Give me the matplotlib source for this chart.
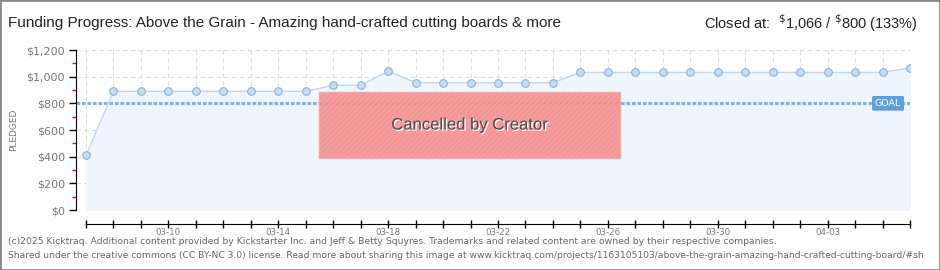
import matplotlib
matplotlib.use("Agg")
import matplotlib.pyplot as plt
import matplotlib.patheffects as pe
from matplotlib.patches import Rectangle
import numpy as np

# daily pledged totals, 03-07 .. 04-06
days = ["03-07", "03-08", "03-09", "03-10", "03-11", "03-12", "03-13", "03-14",
        "03-15", "03-16", "03-17", "03-18", "03-19", "03-20", "03-21", "03-22",
        "03-23", "03-24", "03-25", "03-26", "03-27", "03-28", "03-29", "03-30",
        "03-31", "04-01", "04-02", "04-03", "04-04", "04-05", "04-06"]
pledged = [410, 890, 890, 890, 890, 890, 890, 890,
           890, 935, 935, 1040, 955, 955, 955, 955,
           955, 955, 1032, 1032, 1032, 1032, 1032, 1032,
           1032, 1032, 1032, 1032, 1032, 1032, 1066]
goal = 800
yticks = [0, 200, 400, 600, 800, 1000, 1200]
ytick_labels = ["$0", "$200", "$400", "$600", "$800", "$1,000", "$1,200"]
cancel_span = (8.5, 19.45)   # days from start
cancel_range = (390, 885)

x = np.arange(len(days))

fig = plt.figure(figsize=(9.4, 2.7), dpi=100)
ax = fig.add_axes([76 / 940, 1 - 210 / 270, (910 - 76) / 940, 160 / 270])

ax.fill_between(x, pledged, 0, color="#eef5fd", zorder=1)
ax.plot(x, pledged, color="#bcd8f5", lw=1, zorder=3)
ax.plot(x, pledged, "o", ms=5.5, mfc="#c5dcf5", mec="#8fb2d8", mew=0.8, zorder=4)

ax.axhline(goal, color="#7fb2e8", lw=2.2, ls=(0, (1.2, 0.6)), zorder=2)
ax.text(29.2, goal, "GOAL", color="white", fontsize=6.8, ha="center", va="center",
        zorder=6,
        bbox=dict(boxstyle="round,pad=0.3,rounding_size=0.15", fc="#5d9ee0", ec="none"))

# cancelled overlay
w = cancel_span[1] - cancel_span[0]
h = cancel_range[1] - cancel_range[0]
ax.add_patch(Rectangle((cancel_span[0], cancel_range[0]), w, h, facecolor="#f48c8c",
                       edgecolor="#f4a5a5", lw=1, alpha=0.9, zorder=5))
ax.add_patch(Rectangle((cancel_span[0], cancel_range[0]), w, h, facecolor="none",
                       edgecolor="#f7a0a0", hatch="//////", lw=0, zorder=5))
ax.text(sum(cancel_span) / 2, sum(cancel_range) / 2, "Cancelled by Creator",
        fontsize=12, color="#4a4a4a", ha="center", va="center", zorder=6,
        family=["Liberation Sans", "DejaVu Sans"],
        path_effects=[pe.withSimplePatchShadow(offset=(1, -1), shadow_rgbFace="white", alpha=1)])

ax.set_xlim(-10 / 27.5, 30)
ax.set_ylim(0, 1200)

ax.set_xticks(x)
ax.set_xticklabels([d if (i - 3) % 4 == 0 else "" for i, d in enumerate(days)])
ax.set_yticks(yticks)
ax.set_yticklabels(ytick_labels)
ax.set_yticks([100, 300, 500, 700, 900, 1100], minor=True)

ax.grid(True, color="#dddddd", ls=(0, (4, 3)), lw=0.8, zorder=0)
ax.set_axisbelow(True)

for s in ["top", "right"]:
    ax.spines[s].set_visible(False)
ax.spines["bottom"].set_position(("outward", 10))
ax.spines["bottom"].set_bounds(0, 30)
ax.spines["left"].set_bounds(0, 1200)
ax.tick_params(axis="x", direction="inout", length=6, width=1, labelsize=6.2,
               labelcolor="#777777", pad=0)
ax.tick_params(axis="y", which="major", length=5, width=1, labelsize=8,
               labelcolor="#777777", pad=3)
ax.tick_params(axis="y", which="minor", length=3, width=1, color="red")
ax.set_ylabel("PLEDGED", fontsize=6.5, color="#777777", labelpad=6)

fig.text(8 / 940, 1 - 23 / 270, "Funding Progress: Above the Grain - Amazing hand-crafted cutting boards & more",
         fontsize=11, color="#222222", va="center",
         family=["Liberation Sans", "DejaVu Sans"])
fig.text(918 / 940, 1 - 23 / 270, r"Closed at:  $^{\$}$1,066 / $^{\$}$800 (133%)",
         fontsize=10.5, color="#222222", va="center", ha="right",
         family=["Liberation Sans", "DejaVu Sans"])

fig.text(8 / 940, 1 - 242 / 270,
         "(c)2025 Kicktraq. Additional content provided by Kickstarter Inc. and Jeff & Betty Squyres. "
         "Trademarks and related content are owned by their respective companies.",
         fontsize=6.65, color="#666666", va="center")
fig.text(8 / 940, 1 - 255 / 270,
         "Shared under the creative commons (CC BY-NC 3.0) license. Read more about sharing this image at "
         "www.kicktraq.com/projects/1163105103/above-the-grain-amazing-hand-crafted-cutting-board/#sh",
         fontsize=6.6, color="#666666", va="center")

fig.patches.append(Rectangle((0, 0), 1, 1, transform=fig.transFigure, fill=False,
                             edgecolor="#888888", lw=2))

fig.savefig("out.png", dpi=100)
